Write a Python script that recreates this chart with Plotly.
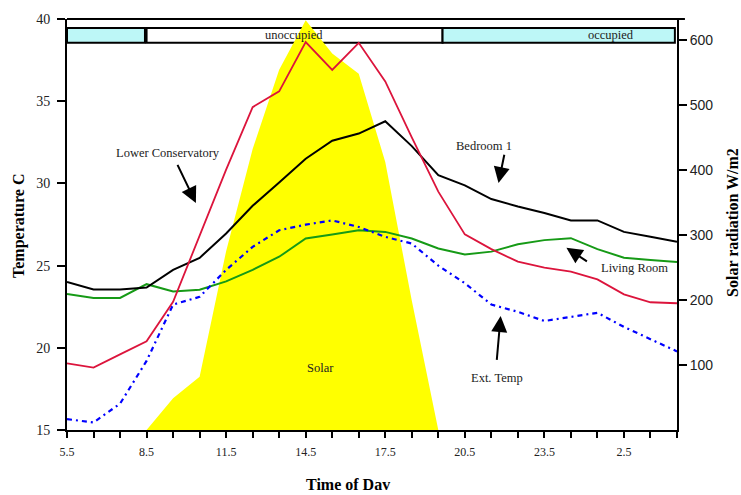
import plotly.graph_objects as go

# ---- data ----
hours = [5.5 + i for i in range(24)]
tick_labels = ["5.5", "", "", "8.5", "", "", "11.5", "", "", "14.5", "", "", "17.5", "", "",
               "20.5", "", "", "23.5", "", "", "2.5", "", ""]

lower_conservatory = [19.05, 18.8, 19.6, 20.4, 22.8, 26.8, 30.84, 34.64, 35.6, 38.6, 36.9, 38.55,
                      36.2, 32.8, 29.5, 26.9, 26.0, 25.24, 24.88, 24.64, 24.16, 23.25, 22.77, 22.71]
bedroom1 = [24.0, 23.55, 23.55, 23.67, 24.74, 25.47, 26.95, 28.64, 30.06, 31.5, 32.6, 33.03,
            33.78, 32.27, 30.5, 29.88, 29.05, 28.6, 28.2, 27.75, 27.75, 27.05, 26.75, 26.45]
living_room = [23.27, 23.03, 23.03, 23.87, 23.43, 23.53, 24.04, 24.74, 25.54, 26.65, 26.89, 27.15,
               27.05, 26.65, 26.04, 25.68, 25.85, 26.3, 26.55, 26.67, 26.0, 25.48, 25.34, 25.22]
ext_temp = [15.66, 15.46, 16.6, 19.2, 22.63, 23.1, 24.74, 26.14, 27.15, 27.49, 27.75, 27.35,
            26.75, 26.34, 25.0, 23.93, 22.63, 22.19, 21.63, 21.87, 22.13, 21.27, 20.52, 19.78]
solar = [0, 0, 0, 0, 49, 82, 275, 432, 554, 630, 579, 548,
         412, 199, 0, 0, 0, 0, 0, 0, 0, 0, 0, 0]

occ_start = [5.5, 8.5, 19.66]
occ_end = [8.44, 19.66, 28.42]
occ_label = ["", "unoccupied", "occupied"]
occ_label_x = [7.0, 14.05, 26.03]
occ_fill = ["#bdf7f7", "rgba(0,0,0,0)", "#bdf7f7"]
occ_y = [38.55, 39.46]

temp_ticks = [15, 20, 25, 30, 35, 40]
solar_ticks = [100, 200, 300, 400, 500, 600]

SERIF = "Liberation Serif"
SANS = "Liberation Sans"

fig = go.Figure()

# solar on primary axis (drawn first, below), temperatures on overlaid axis y2
fig.add_trace(go.Scatter(x=hours, y=solar, yaxis="y", mode="lines", fill="tozeroy",
                         fillcolor="#ffff00", line=dict(width=0, color="#ffff00"),
                         showlegend=False, hoverinfo="skip"))
fig.add_trace(go.Scatter(x=hours, y=living_room, yaxis="y2", mode="lines",
                         line=dict(color="#169a16", width=2), showlegend=False))
fig.add_trace(go.Scatter(x=hours, y=ext_temp, yaxis="y2", mode="lines",
                         line=dict(color="#0000ff", width=2.2, dash="5px,4px,2px,4px"), showlegend=False))
fig.add_trace(go.Scatter(x=hours, y=bedroom1, yaxis="y2", mode="lines",
                         line=dict(color="black", width=2), showlegend=False))
fig.add_trace(go.Scatter(x=hours, y=lower_conservatory, yaxis="y2", mode="lines",
                         line=dict(color="#dc143c", width=1.8), showlegend=False))

shapes = []
annotations = []
for s, e, lab, lx, fc in zip(occ_start, occ_end, occ_label, occ_label_x, occ_fill):
    shapes.append(dict(type="rect", xref="x", yref="y2", x0=s, x1=e, y0=occ_y[0], y1=occ_y[1],
                       fillcolor=fc, line=dict(color="black", width=2), layer="below"))
    if lab:
        annotations.append(dict(x=lx, y=sum(occ_y) / 2, xref="x", yref="y2", text=lab,
                                showarrow=False, font=dict(family=SERIF, size=12.5, color="#222")))
# top border line
shapes.append(dict(type="line", xref="paper", yref="paper", x0=0, x1=1.013, y0=1, y1=1,
                   line=dict(color="black", width=2)))

labels = [
    ("Lower Conservatory", 9.3, 31.83),
    ("Bedroom 1", 21.24, 32.29),
    ("Living Room", 26.89, 24.88),
    ("Ext. Temp", 21.73, 18.19),
    ("Solar", 15.07, 18.8),
]
for t, x, y in labels:
    annotations.append(dict(x=x, y=y, xref="x", yref="y2", text=t, showarrow=False,
                            font=dict(family=SERIF, size=12.5, color="#222")))

arrows = [
    (10.36, 28.81, 9.64, 31.22),
    (21.77, 30.02, 22.0, 31.83),
    (24.33, 26.08, 25.16, 25.2),
    (21.85, 21.93, 21.7, 19.17),
]
for hx, hy, tx, ty in arrows:
    annotations.append(dict(x=hx, y=hy, ax=tx, ay=ty, xref="x", yref="y2", axref="x", ayref="y2",
                            text="", showarrow=True, arrowhead=2, arrowsize=1.6, arrowwidth=2,
                            arrowcolor="black", standoff=0))

annotations += [
    dict(x=-0.0787, y=0.4964, xref="paper", yref="paper", text="<b>Temperature C</b>",
         xanchor="center", yanchor="middle",
         textangle=-90, showarrow=False, font=dict(family=SERIF, size=16, color="black")),
    dict(x=1.090, y=0.506, xref="paper", yref="paper", text="<b>Solar radiation W/m2</b>",
         xanchor="center", yanchor="middle",
         textangle=-90, showarrow=False, font=dict(family=SERIF, size=16, color="black")),
    dict(x=0.4607, y=-0.1325, xref="paper", yref="paper", text="<b>Time of Dav</b>",
         xanchor="center", yanchor="middle",
         showarrow=False, font=dict(family=SERIF, size=16, color="black")),
]

fig.update_layout(
    width=741, height=495,
    margin=dict(l=67, r=64, t=15, b=65),
    paper_bgcolor="white", plot_bgcolor="white",
    shapes=shapes, annotations=annotations,
    xaxis=dict(range=[5.5, 28.5], tickvals=hours, ticktext=tick_labels, showgrid=False,
               zeroline=False, showline=True, linecolor="black", linewidth=2,
               ticks="outside", ticklen=6, tickwidth=1.5, tickcolor="black",
               ticklabelstandoff=4,
               tickfont=dict(family=SERIF, size=12, color="#222")),
    yaxis=dict(range=[0, 632], tickvals=solar_ticks, side="right",
               showgrid=False, zeroline=False, showline=True, linecolor="black", linewidth=2,
               ticks="outside", ticklen=8, tickwidth=1.5, tickcolor="black",
               tickfont=dict(family=SANS, size=14, color="#222")),
    yaxis2=dict(range=[15, 40], tickvals=temp_ticks, overlaying="y", side="left",
                showgrid=False, zeroline=False,
                showline=True, linecolor="black", linewidth=2,
                ticks="outside", ticklen=8, tickwidth=1.5, tickcolor="black",
                ticklabelstandoff=4,
                tickfont=dict(family=SERIF, size=14, color="#222")),
)

fig.write_html("out.html", config={"displayModeBar": False},
               post_script="document.body.style.margin='0';document.body.style.padding='0';")
